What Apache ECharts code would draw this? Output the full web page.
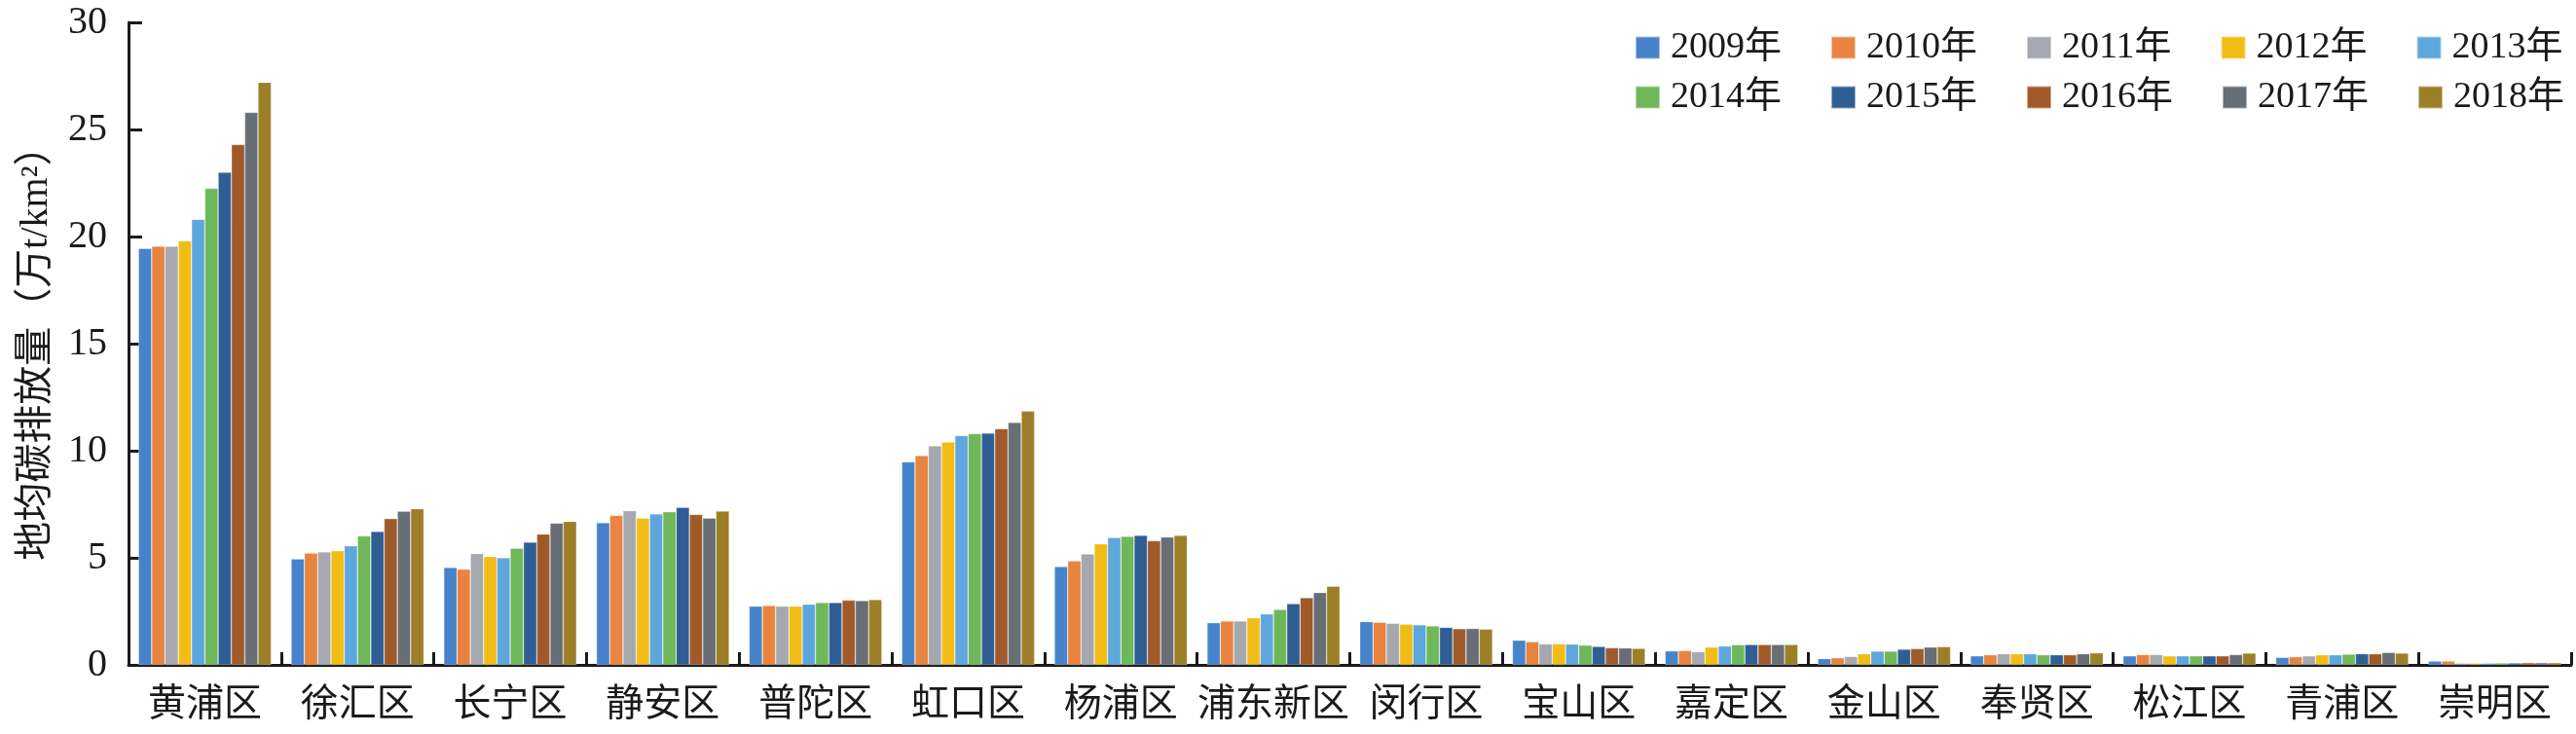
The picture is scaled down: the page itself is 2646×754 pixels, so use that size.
<!DOCTYPE html>
<html>
<head>
<meta charset="utf-8">
<script src="https://cdn.jsdelivr.net/npm/echarts@6/dist/echarts.min.js"></script>
<style>html,body{margin:0;padding:0;background:#fff;}#c{width:2646px;height:754px;}</style>
</head>
<body>
<div id="c"></div>
<script>
const districts = ['黄浦区','徐汇区','长宁区','静安区','普陀区','虹口区','杨浦区','浦东新区','闵行区','宝山区','嘉定区','金山区','奉贤区','松江区','青浦区','崇明区'];
const years = ['2009年','2010年','2011年','2012年','2013年','2014年','2015年','2016年','2017年','2018年'];
const colors = ['#4783CB','#E8843F','#A5A8AF','#F2BC16','#5DA7DD','#6EB85A','#2F5E94','#A05A2A','#686E76','#9C7F26'];
const yTicks = [0,5,10,15,20,25,30];
// values per district, one entry per year 2009..2018
const v黄浦 = [19.45,19.55,19.55,19.8,20.8,22.25,23.0,24.3,25.8,27.2];
const v徐汇 = [4.95,5.22,5.28,5.33,5.56,6.02,6.23,6.83,7.17,7.29];
const v长宁 = [4.55,4.47,5.2,5.06,5.0,5.45,5.73,6.11,6.62,6.7];
const v静安 = [6.64,6.98,7.2,6.86,7.05,7.15,7.36,7.02,6.85,7.18];
const v普陀 = [2.74,2.77,2.74,2.74,2.83,2.91,2.91,3.02,3.0,3.05];
const v虹口 = [9.48,9.77,10.23,10.41,10.71,10.8,10.82,11.03,11.32,11.85];
const v杨浦 = [4.59,4.85,5.18,5.65,5.94,6.0,6.05,5.8,5.97,6.05];
const v浦东 = [1.97,2.05,2.05,2.2,2.38,2.59,2.86,3.14,3.38,3.67];
const v闵行 = [2.02,1.99,1.94,1.9,1.87,1.82,1.75,1.69,1.7,1.67];
const v宝山 = [1.15,1.08,0.98,0.98,0.97,0.92,0.86,0.8,0.79,0.77];
const v嘉定 = [0.65,0.67,0.61,0.83,0.88,0.94,0.95,0.95,0.95,0.95];
const v金山 = [0.29,0.33,0.39,0.52,0.64,0.64,0.73,0.76,0.83,0.85];
const v奉贤 = [0.42,0.47,0.52,0.52,0.52,0.47,0.47,0.47,0.52,0.56];
const v松江 = [0.42,0.48,0.48,0.42,0.42,0.42,0.42,0.42,0.48,0.55];
const v青浦 = [0.35,0.38,0.42,0.47,0.47,0.5,0.52,0.52,0.58,0.55];
const v崇明 = [0.18,0.18,0.08,0.08,0.08,0.09,0.09,0.1,0.1,0.1];

const table = [v黄浦,v徐汇,v长宁,v静安,v普陀,v虹口,v杨浦,v浦东,v闵行,v宝山,v嘉定,v金山,v奉贤,v松江,v青浦,v崇明];
const FONT = "'Liberation Serif','Noto Sans CJK SC'";

const series = years.map((y,i)=>({
  name: y, type: 'bar', barGap: '0%', barCategoryGap: '13%',
  itemStyle: {color: colors[i], borderColor: 'rgba(255,255,255,0.5)', borderWidth: 0.6},
  data: table.map(row => row[i])
}));

const legendCommon = {
  orient: 'horizontal', left: 1674, itemWidth: 25, itemHeight: 23, itemGap: 50,
  icon: 'rect',
  textStyle: {fontFamily: FONT, fontSize: 38, color: '#1a1a1a', width: 115, padding: [0,0,0,6]}
};

const chart = echarts.init(document.getElementById('c'), null, {renderer: 'canvas'});
chart.setOption({
  backgroundColor: '#fff',
  animation: false,
  color: colors,
  legend: [
    Object.assign({top: 25, data: years.slice(0,5)}, legendCommon),
    Object.assign({top: 76, data: years.slice(5)}, legendCommon)
  ],
  grid: {left: 132, right: 5, top: 23, bottom: 71, containLabel: false},
  xAxis: {
    type: 'category', data: districts,
    axisLine: {lineStyle: {color: '#1a1a1a', width: 3}},
    axisTick: {show: true, inside: true, length: 13, lineStyle: {color: '#1a1a1a', width: 3}},
    axisLabel: {fontFamily: FONT, fontSize: 39, color: '#1a1a1a', margin: 22, interval: 0}
  },
  yAxis: {
    type: 'value', min: 0, max: 30, interval: 5,
    name: '地均碳排放量（万t/km²）', nameLocation: 'middle', nameGap: 75, nameRotate: 90,
    nameTextStyle: {fontFamily: FONT, fontSize: 40, color: '#1a1a1a'},
    axisLine: {show: true, lineStyle: {color: '#1a1a1a', width: 3}},
    axisTick: {show: true, inside: true, length: 14, lineStyle: {color: '#1a1a1a', width: 3}},
    splitLine: {show: false},
    axisLabel: {fontFamily: FONT, fontSize: 40, color: '#1a1a1a', margin: 22,
      formatter: v => yTicks.includes(v) ? String(v) : ''}
  },
  series: series
});
</script>
</body>
</html>
